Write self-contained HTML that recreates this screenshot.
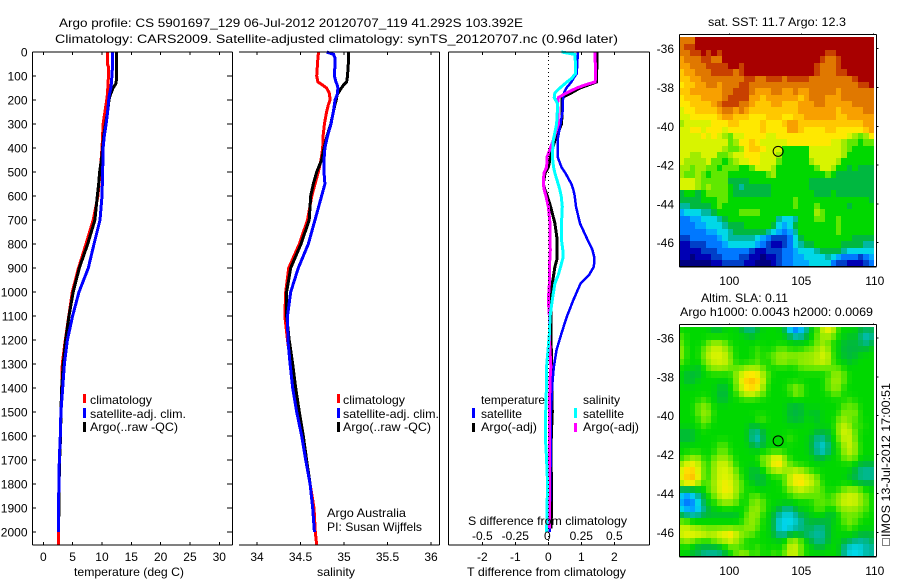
<!DOCTYPE html>
<html>
<head>
<meta charset="utf-8">
<title>Argo profile chart</title>
<style>
html,body{margin:0;padding:0;background:#fff;width:900px;height:580px;overflow:hidden}
svg{display:block}
text{font-family:"Liberation Sans",sans-serif;font-size:12px;fill:#000}
</style>
</head>
<body>
<svg id="chart" xmlns="http://www.w3.org/2000/svg" width="900" height="580" viewBox="0 0 900 580">
  <rect x="0" y="0" width="900" height="580" fill="#fff"/>
  <g id="maps"></g>
  <g id="profiles"></g>
  <g id="axes"></g>

  <text x="59" y="27" textLength="464" lengthAdjust="spacingAndGlyphs">Argo profile: CS 5901697_129 06-Jul-2012 20120707_119 41.292S 103.392E</text>
  <text x="55" y="43" textLength="563" lengthAdjust="spacingAndGlyphs">Climatology: CARS2009. Satellite-adjusted climatology: synTS_20120707.nc (0.96d later)</text>

  <text x="74" y="576" textLength="110" lengthAdjust="spacingAndGlyphs">temperature (deg C)</text>
  <text x="317" y="576" textLength="38" lengthAdjust="spacingAndGlyphs">salinity</text>
  <text x="467" y="576" textLength="159" lengthAdjust="spacingAndGlyphs">T difference from climatology</text>
  <text x="468" y="525" textLength="159" lengthAdjust="spacingAndGlyphs">S difference from climatology</text>

  <g>
    <rect x="83" y="394" width="3" height="9" fill="#f00"/>
    <text x="90" y="404" textLength="62" lengthAdjust="spacingAndGlyphs">climatology</text>
    <rect x="83" y="408" width="3" height="10" fill="#00f"/>
    <text x="90" y="418" textLength="96" lengthAdjust="spacingAndGlyphs">satellite-adj. clim.</text>
    <rect x="83" y="422" width="3" height="10" fill="#000"/>
    <text x="90" y="431" textLength="88" lengthAdjust="spacingAndGlyphs">Argo(..raw -QC)</text>
  </g>
  <g>
    <rect x="337" y="394" width="3" height="9" fill="#f00"/>
    <text x="343" y="404" textLength="62" lengthAdjust="spacingAndGlyphs">climatology</text>
    <rect x="337" y="408" width="3" height="10" fill="#00f"/>
    <text x="343" y="418" textLength="96" lengthAdjust="spacingAndGlyphs">satellite-adj. clim.</text>
    <rect x="337" y="422" width="3" height="10" fill="#000"/>
    <text x="343" y="431" textLength="88" lengthAdjust="spacingAndGlyphs">Argo(..raw -QC)</text>
  </g>
  <text x="327" y="517" textLength="79" lengthAdjust="spacingAndGlyphs">Argo Australia</text>
  <text x="327" y="531" textLength="95" lengthAdjust="spacingAndGlyphs">PI: Susan Wijffels</text>

  <g>
    <text x="481" y="404" textLength="64" lengthAdjust="spacingAndGlyphs">temperature</text>
    <rect x="472" y="408" width="3" height="10" fill="#00f"/>
    <text x="481" y="418" textLength="41" lengthAdjust="spacingAndGlyphs">satellite</text>
    <rect x="472" y="423" width="3" height="9" fill="#000"/>
    <text x="481" y="431" textLength="56" lengthAdjust="spacingAndGlyphs">Argo(-adj)</text>
    <text x="583" y="404" textLength="37" lengthAdjust="spacingAndGlyphs">salinity</text>
    <rect x="574" y="408" width="3" height="10" fill="#0ff"/>
    <text x="583" y="418" textLength="41" lengthAdjust="spacingAndGlyphs">satellite</text>
    <rect x="574" y="423" width="3" height="9" fill="#f0f"/>
    <text x="583" y="431" textLength="56" lengthAdjust="spacingAndGlyphs">Argo(-adj)</text>
  </g>

  <text x="708" y="26" textLength="138" lengthAdjust="spacingAndGlyphs">sat. SST: 11.7  Argo: 12.3</text>
  <text x="701" y="302" textLength="87" lengthAdjust="spacingAndGlyphs">Altim. SLA: 0.11</text>
  <text x="680" y="316" textLength="193" lengthAdjust="spacingAndGlyphs">Argo h1000: 0.0043 h2000: 0.0069</text>

  <rect x="882.5" y="538.5" width="7" height="7" fill="#fff" stroke="#000" stroke-width="1" stroke-dasharray="1 1"/>
  <text transform="translate(890,537) rotate(-90)" textLength="154" lengthAdjust="spacingAndGlyphs">IMOS 13-Jul-2012 17:00:51</text>
</svg>
<script>
// ---------- profile data: temperature panel ----------
const tempDepths = [0,50,60,100,130,150,180,200,250,300,350,400,450,500,550,600,700,800,900,1000,1100,1200,1300,1400,1500,1600,1700,1800,1900,1935,2000,2054];
const tempClimatology = [10.9,10.9,11.1,11.1,11.05,11.0,10.9,10.8,10.5,10.2,10.1,10.0,9.85,9.66,9.5,9.3,8.5,7.28,6.0,4.95,4.35,3.75,3.24,3.13,3.0,2.9,2.73,2.68,2.56,2.56,2.56,2.56];
const tempSatellite = [11.8,11.8,11.8,11.7,11.6,11.5,11.25,11.15,10.96,10.7,10.4,10.2,10.15,10.1,10.05,10.0,9.66,8.64,7.67,6.08,5.0,4.1,3.6,3.3,3.0,2.9,2.73,2.68,2.56,2.56,2.56,null];
const tempArgo = [12.5,12.5,12.5,12.5,12.4,11.9,11.4,11.2,10.96,10.6,10.3,10.1,9.9,9.6,9.45,9.2,8.8,7.56,6.14,5.1,4.38,3.8,3.4,3.13,3.0,2.95,2.78,2.7,2.65,2.65,null,null];

// ---------- profile data: salinity panel ----------
const salDepths = [0,10,25,50,100,125,135,150,170,180,200,220,250,300,350,400,450,500,550,600,700,800,900,1000,1100,1200,1300,1400,1500,1600,1700,1800,1900,2000,2054];
const salClimatology = [34.705,34.705,34.70,34.695,34.686,34.70,34.743,34.80,34.83,34.835,34.84,34.82,34.80,34.775,34.76,34.755,34.736,34.705,34.667,34.63,34.58,34.486,34.364,34.33,34.32,34.35,34.387,34.43,34.47,34.514,34.56,34.61,34.655,34.67,34.686];
const salSatellite = [34.80,34.88,34.897,34.897,34.89,34.908,34.92,34.93,34.925,34.92,34.897,34.89,34.877,34.85,34.81,34.78,34.77,34.77,34.78,34.743,34.667,34.59,34.475,34.387,34.35,34.355,34.38,34.41,34.456,34.514,34.56,34.61,34.64,34.66,null];
const salArgo = [35.05,35.05,35.05,35.05,35.04,35.03,35.0,34.97,34.935,34.92,34.91,34.895,34.877,34.848,34.805,34.77,34.743,34.686,34.647,34.617,34.6,34.506,34.387,34.34,34.34,34.37,34.41,34.445,34.486,34.532,34.57,34.61,34.64,34.66,null];

// ---------- profile data: difference panel ----------
const diffDepths = [0,10,50,90,110,125,135,150,170,190,215,250,300,367,436,480,505,550,575,600,644,714,783,825,860,895,930,964,1033,1103,1172,1242,1311,1367,1500,1600,1700,1800,1900,1985,2000];
const diffTempSatellite = [0.89,0.89,0.88,0.86,0.76,0.70,0.64,0.55,0.48,0.45,0.44,0.43,0.37,0.28,0.28,0.40,0.52,0.70,0.76,0.80,0.84,0.96,1.19,1.34,1.40,1.38,1.23,0.98,0.76,0.56,0.40,0.25,0.17,0.13,0.08,0.07,0.07,0.06,0.05,0.05,0.05];
const diffTempArgo = [1.48,1.48,1.48,1.46,1.46,1.46,1.26,0.96,0.70,0.42,0.42,0.42,0.40,0.2,0.07,0,-0.1,-0.15,-0.1,-0.03,0.07,0.2,0.27,0.27,0.27,0.2,0.16,0.12,0.08,0.08,0.08,0.09,0.1,0.1,0.12,0.09,0.08,0.1,0.1,0.08,null];
const diffSalSatellite = [0.10,0.2,0.207,0.205,0.177,0.14,0.12,0.088,0.05,0.045,0.07,0.068,0.063,0.038,0.03,0.04,0.05,0.075,0.088,0.098,0.106,0.1,0.1,0.11,0.11,0.093,0.075,0.05,0.03,0.013,0.008,-0.002,-0.013,-0.013,-0.02,-0.023,-0.013,-0.005,-0.01,-0.012,-0.012];
const diffSalArgo = [0.354,0.354,0.356,0.358,0.358,0.354,0.29,0.215,0.14,0.076,0.07,0.075,0.076,0.038,-0.008,-0.013,-0.033,-0.038,-0.03,-0.018,0,0.013,0.013,0.015,0.012,0.008,0.008,0.008,0,0.008,0.008,0.012,0.02,0.013,0.008,0.008,0.008,0.008,0.008,0.008,null];

// ---------- tick labels ----------
const depthTicks = [0,100,200,300,400,500,600,700,800,900,1000,1100,1200,1300,1400,1500,1600,1700,1800,1900,2000];
const tempTicks = [0,5,10,15,20,25,30];
const salTicks = [34,34.5,35,35.5,36];
const diffTempTicks = [-2,-1,0,1,2];
const diffSalTicks = [-0.5,-0.25,0,0.25,0.5];
const mapLonTicks = [100,105,110];
const mapLatTicks = [-36,-38,-40,-42,-44,-46];
const argoLon = [103.392];
const argoLat = [-41.292];

// ---------- map data: colour level per grid cell, north to south ----------
const sstGrid = [
[15,15,15,17,17,17,17,17,17,17,17,17,17,17,17,17,17,17,17,17,17,17,17,17,17,17,17,17,17,17,17,17,17,17,17,17],
[15,16,16,17,17,17,17,17,17,17,17,17,17,17,17,17,17,17,17,17,17,17,17,17,17,17,17,17,17,17,17,17,17,17,17,17],
[15,15,16,16,17,16,17,16,17,17,17,17,17,17,17,17,17,17,17,17,17,17,17,17,17,17,17,16,16,17,17,17,17,17,17,17],
[14,15,15,15,16,16,15,15,17,17,17,17,17,17,17,17,17,17,17,17,17,17,17,17,17,17,16,15,15,16,17,17,17,17,17,17],
[14,14,15,15,15,16,16,16,16,17,17,16,17,17,17,17,17,17,17,17,17,17,17,17,17,16,15,15,15,16,17,17,17,17,17,17],
[13,14,14,15,15,15,16,16,16,16,15,16,17,17,17,17,17,17,17,17,17,17,17,17,17,16,15,15,15,16,16,17,17,17,17,17],
[13,13,14,14,15,15,15,15,15,15,15,15,16,16,15,15,16,16,16,15,16,16,16,16,15,15,15,15,15,15,15,15,16,17,17,17],
[12,13,13,14,14,15,15,14,15,15,15,16,16,15,15,15,15,15,15,15,15,15,15,15,15,15,15,15,15,15,15,15,15,16,16,17],
[13,13,14,14,14,14,14,14,15,15,16,16,16,15,14,14,14,15,15,14,14,15,14,14,15,15,15,15,15,14,15,15,15,15,15,15],
[12,13,13,13,14,14,14,14,15,16,16,16,16,14,14,13,14,14,14,14,14,14,13,14,15,15,15,14,14,14,15,15,15,15,15,15],
[12,12,13,13,13,13,14,15,16,16,16,15,15,14,13,13,13,14,14,13,13,13,14,14,14,15,15,14,14,14,14,14,15,15,15,15],
[11,12,12,13,13,13,13,14,15,15,14,15,14,13,13,13,13,13,13,13,13,13,14,14,14,14,14,14,14,13,14,14,14,14,15,15],
[11,11,12,12,12,12,12,13,14,14,13,13,13,12,12,12,13,13,13,12,12,13,13,14,14,14,14,14,14,13,13,14,14,14,14,14],
[10,11,11,11,11,11,12,12,12,13,13,12,12,12,12,13,12,12,12,13,14,14,13,13,13,13,13,13,13,13,13,13,13,13,14,14],
[11,11,12,12,11,12,12,12,11,12,12,12,12,12,12,13,12,12,12,12,14,14,13,12,12,12,12,13,13,12,12,12,12,12,13,14],
[11,11,11,11,12,11,12,11,10,9,11,11,12,12,12,12,11,11,12,12,12,12,12,12,12,12,12,12,12,12,12,11,10,9,10,12],
[11,11,11,11,11,11,11,11,11,9,10,12,12,13,12,11,11,11,11,11,12,12,12,12,12,12,12,12,11,11,10,9,9,8,9,9],
[11,11,11,11,11,11,11,11,10,9,9,10,12,13,13,12,11,11,11,8,8,8,8,8,11,11,11,11,11,11,10,9,8,8,8,8],
[11,11,10,10,11,11,11,9,9,10,11,11,12,12,12,11,11,11,10,8,8,8,8,8,11,11,11,11,11,11,10,8,8,8,8,8],
[11,10,10,10,10,11,9,9,8,9,10,11,11,12,12,11,11,11,9,8,8,8,8,8,10,11,11,11,11,10,8,8,8,8,8,8],
[10,10,9,10,10,9,9,8,9,9,9,8,8,9,11,11,11,10,8,8,8,8,8,8,8,9,11,11,10,8,8,7,8,7,7,7],
[10,9,9,10,9,8,9,9,9,8,8,8,8,8,8,8,9,10,8,8,8,8,8,8,8,8,8,9,8,7,7,7,7,7,7,7],
[11,11,11,10,9,9,9,9,9,7,7,7,7,8,8,8,8,8,8,8,8,8,8,8,7,7,7,7,7,7,7,7,7,7,7,7],
[11,11,11,10,9,10,9,9,9,8,7,6,7,7,7,7,7,8,8,8,8,8,8,8,7,7,7,7,7,7,7,7,7,7,7,7],
[7,8,8,7,8,9,9,9,9,8,7,7,7,7,7,7,7,8,8,8,8,8,8,8,8,7,7,7,8,7,7,7,7,7,7,7],
[7,7,7,7,8,8,8,9,9,8,8,8,8,8,8,8,8,8,8,8,8,9,8,8,8,8,8,8,8,8,8,8,8,8,8,7],
[6,6,7,7,7,7,8,9,8,8,8,8,8,8,8,8,8,8,8,8,8,9,8,8,8,9,8,8,8,8,8,7,8,8,8,8],
[4,5,5,5,6,6,7,8,8,8,8,9,9,9,9,8,8,8,8,8,8,8,8,8,8,10,9,8,8,8,8,8,8,8,8,8],
[3,3,4,4,5,5,5,6,7,8,8,8,8,8,8,8,8,8,6,5,5,6,8,8,8,9,9,8,8,9,8,8,8,8,8,8],
[3,3,3,4,4,5,5,5,6,7,7,7,8,8,8,8,8,7,5,4,5,7,8,8,8,8,8,8,8,9,8,8,8,8,8,8],
[3,3,3,3,3,4,4,5,5,6,7,7,7,7,7,7,6,5,4,3,4,6,8,8,8,8,8,8,8,9,8,8,8,8,8,8],
[2,2,3,3,3,3,3,4,5,6,6,6,6,6,5,4,3,2,2,2,3,5,7,8,8,8,8,8,8,8,8,8,7,7,7,7],
[1,1,2,2,2,3,3,3,4,5,5,5,5,5,4,3,2,1,1,2,3,5,6,7,7,8,8,8,8,8,7,7,7,7,6,6],
[1,1,1,1,2,2,2,3,3,3,3,3,3,2,1,1,2,2,2,3,3,4,5,5,5,6,7,7,7,7,6,5,5,5,5,5],
[1,1,0,1,1,1,2,2,3,3,3,2,2,1,1,0,1,1,2,3,3,4,4,5,5,5,5,6,5,4,3,3,3,2,3,4],
[0,0,0,0,0,0,1,1,2,2,2,2,1,1,0,0,0,1,2,3,3,4,4,4,5,5,5,5,3,2,2,1,1,1,2,3]
];
const slaGrid = [
[8,8,8,8,8,8,7,7,8,8,8,7,6,6,7,8,8,8,8,7,4,2,4,6,8,8,11,12,11,8,8,8,8,7,7,7],
[9,8,8,8,8,8,8,8,8,8,8,8,8,7,8,8,8,8,8,8,7,6,6,7,8,9,10,10,9,8,8,7,8,6,5,6],
[9,8,8,8,8,9,10,10,9,8,8,8,8,8,8,8,8,8,8,8,8,8,8,8,8,9,10,9,8,8,7,7,7,7,6,7],
[10,8,8,8,9,10,11,11,10,9,8,8,8,8,9,8,8,8,9,9,8,8,8,9,9,10,11,10,8,8,7,7,7,7,7,8],
[10,8,8,8,9,11,11,11,11,9,8,8,8,8,9,8,9,9,10,10,10,10,10,10,10,10,11,11,8,8,7,7,7,8,8,8],
[9,8,8,8,9,10,11,11,11,10,8,8,8,8,9,8,8,9,10,10,9,9,10,10,10,11,11,11,8,8,8,7,8,8,8,8],
[8,8,8,7,8,9,10,10,10,9,9,9,10,10,10,9,8,8,8,8,8,8,9,9,9,9,9,9,9,9,8,8,8,8,8,8],
[8,7,7,7,8,8,8,8,8,8,10,11,12,12,12,10,9,8,8,8,8,8,8,8,8,8,8,8,10,10,9,8,8,8,8,8],
[8,7,7,8,8,8,8,8,8,8,9,12,13,14,13,11,8,8,8,8,8,8,8,8,8,8,8,9,10,10,9,8,8,8,8,8],
[8,8,8,8,8,8,8,7,7,8,9,11,12,13,12,10,8,8,8,8,9,10,9,8,8,8,8,9,10,10,8,8,8,8,8,8],
[8,8,8,8,8,8,8,7,7,8,8,10,11,11,10,9,8,8,8,8,8,10,9,8,8,8,8,8,9,9,8,8,8,8,8,8],
[8,8,8,8,9,8,8,7,7,8,8,8,8,8,8,8,8,8,8,8,8,8,8,8,8,8,8,8,8,8,8,9,8,8,8,8],
[8,8,8,9,10,9,8,8,8,8,8,8,8,8,8,8,8,8,8,8,7,7,7,8,8,8,8,8,8,8,9,9,9,8,8,8],
[8,8,8,9,10,10,8,8,8,8,8,8,8,8,8,8,8,8,8,8,7,7,7,8,7,7,8,8,8,8,10,9,10,8,8,8],
[8,8,8,8,10,9,8,8,8,8,8,8,8,8,9,9,8,8,8,8,7,7,7,8,8,7,8,8,8,9,10,9,9,8,8,8],
[8,8,8,8,9,8,8,8,8,8,8,8,8,7,7,8,8,8,8,8,8,8,8,8,8,8,8,8,8,10,11,10,8,9,8,8],
[7,7,7,8,8,8,8,8,8,8,8,8,8,6,6,7,8,8,8,8,8,8,8,8,8,7,7,7,8,10,11,11,9,8,8,8],
[7,7,7,8,8,8,8,8,8,8,8,8,8,6,5,7,8,8,8,8,9,8,8,8,7,6,6,7,8,9,11,11,9,8,8,8],
[8,8,8,8,8,8,8,9,9,8,8,8,8,7,6,7,8,8,8,8,8,8,8,8,7,6,5,6,8,8,10,11,10,8,8,8],
[8,8,8,8,8,8,8,9,9,8,8,8,8,8,8,8,8,8,8,8,8,8,8,8,7,6,5,6,8,8,10,11,10,8,8,8],
[8,9,10,10,8,8,9,10,10,9,8,8,8,8,8,10,10,12,12,10,8,8,8,8,8,7,7,8,8,8,9,10,9,8,8,8],
[10,11,12,11,9,8,10,11,11,10,8,8,8,8,8,9,10,12,13,10,9,8,8,8,8,8,8,8,8,8,8,8,8,7,7,7],
[11,13,13,11,9,8,10,11,11,11,9,8,8,7,7,8,9,10,11,10,10,11,10,9,8,8,8,8,8,8,8,8,7,6,6,6],
[11,13,14,12,9,8,10,11,11,11,10,8,8,7,7,7,8,8,8,8,11,12,12,11,11,9,8,8,8,8,8,7,7,6,6,6],
[11,13,13,11,8,9,10,11,12,11,10,9,8,8,7,7,8,8,8,9,11,12,13,11,11,10,8,8,8,8,8,8,7,7,7,7],
[6,6,6,7,8,9,10,11,12,12,10,9,8,8,8,8,8,8,8,8,10,10,11,10,10,9,9,8,8,8,9,10,10,9,8,8],
[5,3,5,6,7,8,9,11,11,11,10,8,8,9,9,8,8,8,8,8,8,9,9,9,9,9,9,8,9,10,11,11,11,10,9,8],
[4,2,3,5,7,8,8,9,10,10,9,8,8,9,10,9,8,8,8,8,8,8,8,8,8,9,9,9,9,10,11,11,11,10,9,8],
[5,4,3,4,6,7,8,8,8,8,8,8,8,10,10,9,8,8,7,6,6,7,8,8,8,9,9,8,8,9,10,10,10,9,9,8],
[7,6,6,6,7,7,7,7,7,7,7,8,9,10,10,8,8,7,6,5,5,6,7,7,8,8,8,7,7,8,9,9,9,9,8,8],
[9,9,8,8,8,8,8,8,8,8,8,8,9,10,9,8,8,7,5,5,5,5,6,7,7,7,7,7,8,8,9,10,9,8,8,8],
[11,11,10,10,9,9,9,9,9,9,9,9,10,10,9,8,8,7,5,4,5,6,6,7,7,6,6,7,8,8,8,9,8,8,8,8],
[11,12,12,12,12,11,11,12,12,14,11,10,9,9,8,8,8,7,6,6,7,7,7,6,6,6,6,7,8,8,8,8,8,7,7,7],
[9,10,9,8,8,8,9,10,10,11,10,9,8,8,8,8,8,8,8,8,10,11,9,8,7,6,6,7,8,8,7,7,6,6,6,7],
[8,8,8,7,7,7,7,7,8,9,9,8,8,8,9,8,8,8,8,8,11,11,9,8,8,7,7,8,8,8,6,5,5,5,6,6],
[8,8,7,7,6,6,6,6,7,8,9,10,10,8,9,8,8,9,8,9,11,11,9,8,8,8,8,8,8,8,6,5,5,5,6,6]
];

// ---------- styling ----------
const mapPalette = ["#000080","#0000b4","#0040c8","#0078ff","#00a8ff","#00d8e8","#00b8a0","#00b840","#00d800","#60e800","#a0ec00","#d8f400","#ffe800","#ffc800","#f8a000","#e07800","#c84000","#a80000"];
const NS = "http://www.w3.org/2000/svg";
const mapsLayer = document.getElementById("maps");
const profilesLayer = document.getElementById("profiles");
const axesLayer = document.getElementById("axes");

function svgEl(tag, parent) {
  const el = document.createElementNS(NS, tag);
  parent.appendChild(el);
  return el;
}

// ---------- axis functions ----------
function depthY(d) { return 52 + d * 0.24; }
function tempX(t) { return 43.3 + t * 5.867; }
function salX(s) { return 257 + (s - 34) * 87; }
function diffTempX(t) { return 548.3 + t * 33; }
function diffSalX(s) { return 548.3 + s * 132; }
function lonX(lon) { return 729.3 + (lon - 100) * 14.4; }
function sstLatY(lat) { return 48.7 + (-36 - lat) * 19.4; }
function slaLatY(lat) { return 338 + (-36 - lat) * 19.43; }

// colour scale: continuous interpolation through the palette
function levelColor(v) {
  const max = mapPalette.length - 1;
  const t = Math.max(0, Math.min(max, v));
  const i = Math.min(max - 1, Math.floor(t));
  const f = t - i;
  const a = parseInt(mapPalette[i].slice(1), 16);
  const b = parseInt(mapPalette[i + 1].slice(1), 16);
  const mix = function (shift) {
    const ca = (a >> shift) & 255;
    const cb = (b >> shift) & 255;
    return Math.round(ca + (cb - ca) * f);
  };
  return "rgb(" + mix(16) + "," + mix(8) + "," + mix(0) + ")";
}

// light smoothing kernel for the altimetry field
function smoothedValue(grid, r, c) {
  const weights = [1, 3, 1];
  let sum = 0;
  let total = 0;
  for (let dr = -1; dr <= 1; dr++) {
    for (let dc = -1; dc <= 1; dc++) {
      const rr = Math.max(0, Math.min(grid.length - 1, r + dr));
      const cc = Math.max(0, Math.min(grid[rr].length - 1, c + dc));
      const w = weights[dr + 1] * weights[dc + 1];
      sum += grid[rr][cc] * w;
      total += w;
    }
  }
  return sum / total;
}

function line(parent, x1, y1, x2, y2, w) {
  const el = svgEl("line", parent);
  el.setAttribute("x1", x1);
  el.setAttribute("y1", y1);
  el.setAttribute("x2", x2);
  el.setAttribute("y2", y2);
  el.setAttribute("stroke", "#000");
  el.setAttribute("stroke-width", w || 1);
  el.setAttribute("shape-rendering", "crispEdges");
  return el;
}

function label(parent, txt, x, y, anchor) {
  const el = svgEl("text", parent);
  el.setAttribute("x", x);
  el.setAttribute("y", y);
  el.setAttribute("text-anchor", anchor);
  el.textContent = txt;
  return el;
}

function drawProfile(depths, values, xScale, color, width, name) {
  const pts = [];
  for (let i = 0; i < depths.length; i++) {
    if (values[i] === null) continue;
    pts.push(xScale(values[i]).toFixed(1) + "," + depthY(depths[i]).toFixed(1));
  }
  const el = svgEl("polyline", profilesLayer);
  
  
  el.setAttribute("points", pts.join(" "));
  el.setAttribute("fill", "none");
  el.setAttribute("stroke", color);
  el.setAttribute("stroke-width", width);
  el.setAttribute("shape-rendering", "crispEdges");
}

function drawMap(grid, latY, topLat, bottomLat, name, smooth) {
  const west = 96.5;
  const east = 110.05;
  const nRows = grid.length;
  for (let r = 0; r < nRows; r++) {
    const row = grid[r];
    const nCols = row.length;
    const lat0 = topLat + (bottomLat - topLat) * r / nRows;
    const lat1 = topLat + (bottomLat - topLat) * (r + 1) / nRows;
    const y0 = Math.round(latY(lat0));
    const y1 = Math.round(latY(lat1));
    for (let c = 0; c < nCols; c++) {
      const x0 = Math.round(lonX(west + (east - west) * c / nCols));
      const x1 = Math.round(lonX(west + (east - west) * (c + 1) / nCols));
      const value = smooth ? smoothedValue(grid, r, c) : row[c];
      const cell = svgEl("rect", mapsLayer);
      
      
      cell.setAttribute("x", x0);
      cell.setAttribute("y", y0);
      cell.setAttribute("width", x1 - x0);
      cell.setAttribute("height", y1 - y0);
      cell.setAttribute("fill", levelColor(value));
      cell.setAttribute("shape-rendering", "crispEdges");
    }
  }
}

function drawMapFrame(top, bottom, latY, lonLabelY, name) {
  const left = 679.5;
  const right = 876.5;
  const g = svgEl("g", axesLayer);
  
  
  line(g, left, top, right, top, 1);
  line(g, left, bottom, right, bottom, 1.5);
  line(g, left, top, left, bottom, 1);
  line(g, right, top, right, bottom, 1);
  mapLonTicks.forEach(function (lon) {
    const x = lonX(lon);
    line(g, x, top - 1, x, top, 1);
    const t = label(g, String(lon), lon === 110 ? x + 1.5 : x, lonLabelY, "middle");
    
    
  });
  mapLatTicks.forEach(function (lat) {
    const y = latY(lat);
    line(g, right, y, right + 2, y, 1);
    const t = label(g, String(lat), 674, y + 4.5, "end");
    
    
  });
  const c = svgEl("circle", axesLayer);
  
  
  c.setAttribute("cx", lonX(argoLon[0]));
  c.setAttribute("cy", latY(argoLat[0]));
  c.setAttribute("r", 5);
  c.setAttribute("fill", "none");
  c.setAttribute("stroke", "#000");
  c.setAttribute("stroke-width", 1);
}

// ---------- maps ----------
drawMap(sstGrid, sstLatY, -35.41, -47.24, "sst-map", false);
drawMap(slaGrid, slaLatY, -35.42, -47.26, "sla-map", true);
drawMapFrame(34.5, 266.5, sstLatY, 285, "sst-map");
drawMapFrame(324.5, 556.5, slaLatY, 575, "sla-map");

// ---------- profile frames ----------
const panelTop = 52;
const panelBottom = 545;

const tempAxis = svgEl("g", axesLayer);


line(tempAxis, 32.5, panelTop, 232.5, panelTop);
line(tempAxis, 32.5, panelBottom, 232.5, panelBottom);
line(tempAxis, 32.5, panelTop, 32.5, panelBottom);
line(tempAxis, 232.5, panelTop, 232.5, panelBottom);
depthTicks.forEach(function (d) {
  const y = depthY(d);
  line(tempAxis, 32.5, y, 36, y);
  line(tempAxis, 227, y, 232.5, y);
  const t = label(tempAxis, String(d), 27.5, y + 4.5, "end");
  
  
});
tempTicks.forEach(function (v) {
  const x = tempX(v);
  line(tempAxis, x, panelTop, x, panelTop + 3);
  line(tempAxis, x, panelBottom - 3, x, panelBottom);
  const t = label(tempAxis, String(v), x, 561, "middle");
  
  
});

const salAxis = svgEl("g", axesLayer);


line(salAxis, 239, panelTop, 439.5, panelTop);
line(salAxis, 239, panelBottom, 439.5, panelBottom);
line(salAxis, 439.5, panelTop, 439.5, panelBottom);
salTicks.forEach(function (v) {
  const x = salX(v);
  line(salAxis, x, panelTop, x, panelTop + 3);
  line(salAxis, x, panelBottom - 3, x, panelBottom);
  const t = label(salAxis, String(v), x, 561, "middle");
  
  
});

const diffAxis = svgEl("g", axesLayer);


line(diffAxis, 448.5, panelTop, 649.5, panelTop);
line(diffAxis, 448.5, panelBottom, 649.5, panelBottom);
line(diffAxis, 448.5, panelTop, 448.5, panelBottom);
line(diffAxis, 649.5, panelTop, 649.5, panelBottom);
const zeroLine = line(diffAxis, diffTempX(0), panelTop, diffTempX(0), panelBottom);
zeroLine.setAttribute("stroke-dasharray", "1 3");


diffTempTicks.forEach(function (v) {
  const x = diffTempX(v);
  line(diffAxis, x, panelTop, x, panelTop + 3);
  line(diffAxis, x, panelBottom - 3, x, panelBottom);
  const t = label(diffAxis, String(v), x, 561, "middle");
  
  
});
diffSalTicks.forEach(function (v) {
  const t = label(diffAxis, String(v), diffSalX(v) - (v === 0 ? 1 : 0), 540, "middle");
  
  
});

// ---------- profile series ----------
drawProfile(tempDepths, tempClimatology, tempX, "#f00", 3, "temperature-climatology-line");
drawProfile(tempDepths, tempArgo, tempX, "#000", 3, "temperature-argo-line");
drawProfile(tempDepths, tempSatellite, tempX, "#00f", 3, "temperature-satellite-line");

drawProfile(salDepths, salClimatology, salX, "#f00", 3, "salinity-climatology-line");
drawProfile(salDepths, salArgo, salX, "#000", 3, "salinity-argo-line");
drawProfile(salDepths, salSatellite, salX, "#00f", 3, "salinity-satellite-line");

drawProfile(diffDepths, diffTempArgo, diffTempX, "#000", 3, "t-difference-argo-line");
drawProfile(diffDepths, diffTempSatellite, diffTempX, "#00f", 2.5, "t-difference-satellite-line");
drawProfile(diffDepths, diffSalArgo, diffSalX, "#f0f", 3, "s-difference-argo-line");
drawProfile(diffDepths, diffSalSatellite, diffSalX, "#0ff", 3, "s-difference-satellite-line");
</script>
</body>
</html>
